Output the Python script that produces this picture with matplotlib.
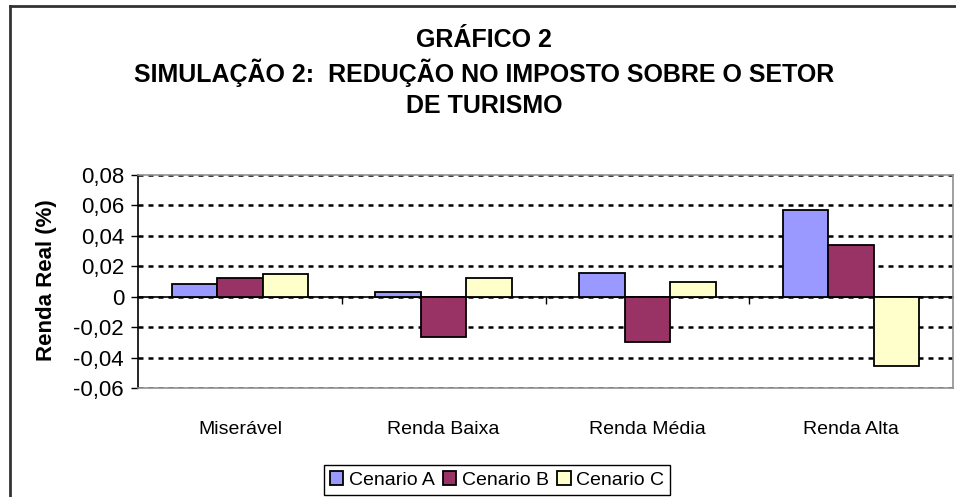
import numpy as np
import matplotlib
matplotlib.use("Agg")
import matplotlib.pyplot as plt
from matplotlib.lines import Line2D

plt.rcParams['font.family'] = ['Liberation Sans', 'DejaVu Sans']

categorias = ['Miserável', 'Renda Baixa', 'Renda Média', 'Renda Alta']
cenario_a = [0.0085, 0.0031, 0.0156, 0.0570]
cenario_b = [0.0125, -0.0268, -0.0298, 0.0338]
cenario_c = [0.0147, 0.0125, 0.0094, -0.0454]
series = [('Cenario A', cenario_a, '#9999FF'),
          ('Cenario B', cenario_b, '#993366'),
          ('Cenario C', cenario_c, '#FFFFCC')]
y_ticks = [-0.06, -0.04, -0.02, 0, 0.02, 0.04, 0.06, 0.08]
y_labels = ['-0,06', '-0,04', '-0,02', '0', '0,02', '0,04', '0,06', '0,08']

W, H = 956, 497
fig = plt.figure(figsize=(W / 100, H / 100), dpi=100)
ax = fig.add_axes([138 / W, 1 - 388 / H, (953 - 138) / W, (388 - 175) / H])

x = np.arange(len(categorias))
width = 0.223
for i, (nome, vals, cor) in enumerate(series):
    ax.bar(x + (i - 1) * width, vals, width, color=cor, edgecolor='black',
           linewidth=1.3, label=nome, zorder=3)

ax.set_xlim(-0.5, len(categorias) - 0.5)
ax.set_ylim(y_ticks[0], y_ticks[-1])
ax.set_yticks(y_ticks)
ax.set_yticklabels(y_labels, fontsize=16)
ax.tick_params(axis='y', direction='out', length=5, width=1, pad=5)
ax.yaxis.grid(True, linestyle=(0, (2, 2)), color='black', linewidth=1.8)
ax.set_axisbelow(True)

ax.set_xticks(x)
ax.set_xticklabels(categorias, fontsize=14)
ax.tick_params(axis='x', length=0, pad=24)

for side in ['top', 'right', 'bottom']:
    ax.spines[side].set_color('#909090')
    ax.spines[side].set_linewidth(1.2)
ax.spines['left'].set_color('black')
ax.spines['left'].set_linewidth(1.2)

# eixo x na linha do zero, com marcas entre as categorias
zero_frac = (0 - y_ticks[0]) / (y_ticks[-1] - y_ticks[0])
sec = ax.secondary_xaxis(zero_frac)
sec.set_xticks(x[:-1] + 0.5)
sec.set_xticklabels([])
sec.tick_params(direction='out', length=5, width=1)
sec.spines['bottom'].set_color('black')
sec.spines['bottom'].set_linewidth(1.2)

ax.set_ylabel('Renda Real (%)', fontsize=16, fontweight='bold')
ax.yaxis.set_label_coords((57 - 138) / (953 - 138), (388 - 280) / (388 - 175))

titulo_kw = dict(ha='center', va='center', fontsize=18, fontweight='bold')
fig.text(484 / W, 1 - 40 / H, 'GRÁFICO 2', **titulo_kw)
fig.text(484 / W, 1 - 73 / H, 'SIMULAÇÃO 2:  REDUÇÃO NO IMPOSTO SOBRE O SETOR',
         **titulo_kw)
fig.text(484 / W, 1 - 106 / H, 'DE TURISMO', **titulo_kw)

fig.legend(loc='center', bbox_to_anchor=(497 / W, 1 - 480 / H), ncol=3,
           fontsize=14, fancybox=False, edgecolor='black', framealpha=1,
           handlelength=0.7, handleheight=0.7, handletextpad=0.3,
           columnspacing=0.4, borderpad=0.3, borderaxespad=0)

# moldura externa (esquerda e topo)
fig.add_artist(Line2D([9.5 / W, 9.5 / W], [0, 1 - 6 / H], color='#333333',
                      linewidth=2, transform=fig.transFigure))
fig.add_artist(Line2D([9.5 / W, 1], [1 - 6 / H, 1 - 6 / H], color='#333333',
                      linewidth=2, transform=fig.transFigure))

fig.savefig('out.png', dpi=100)
